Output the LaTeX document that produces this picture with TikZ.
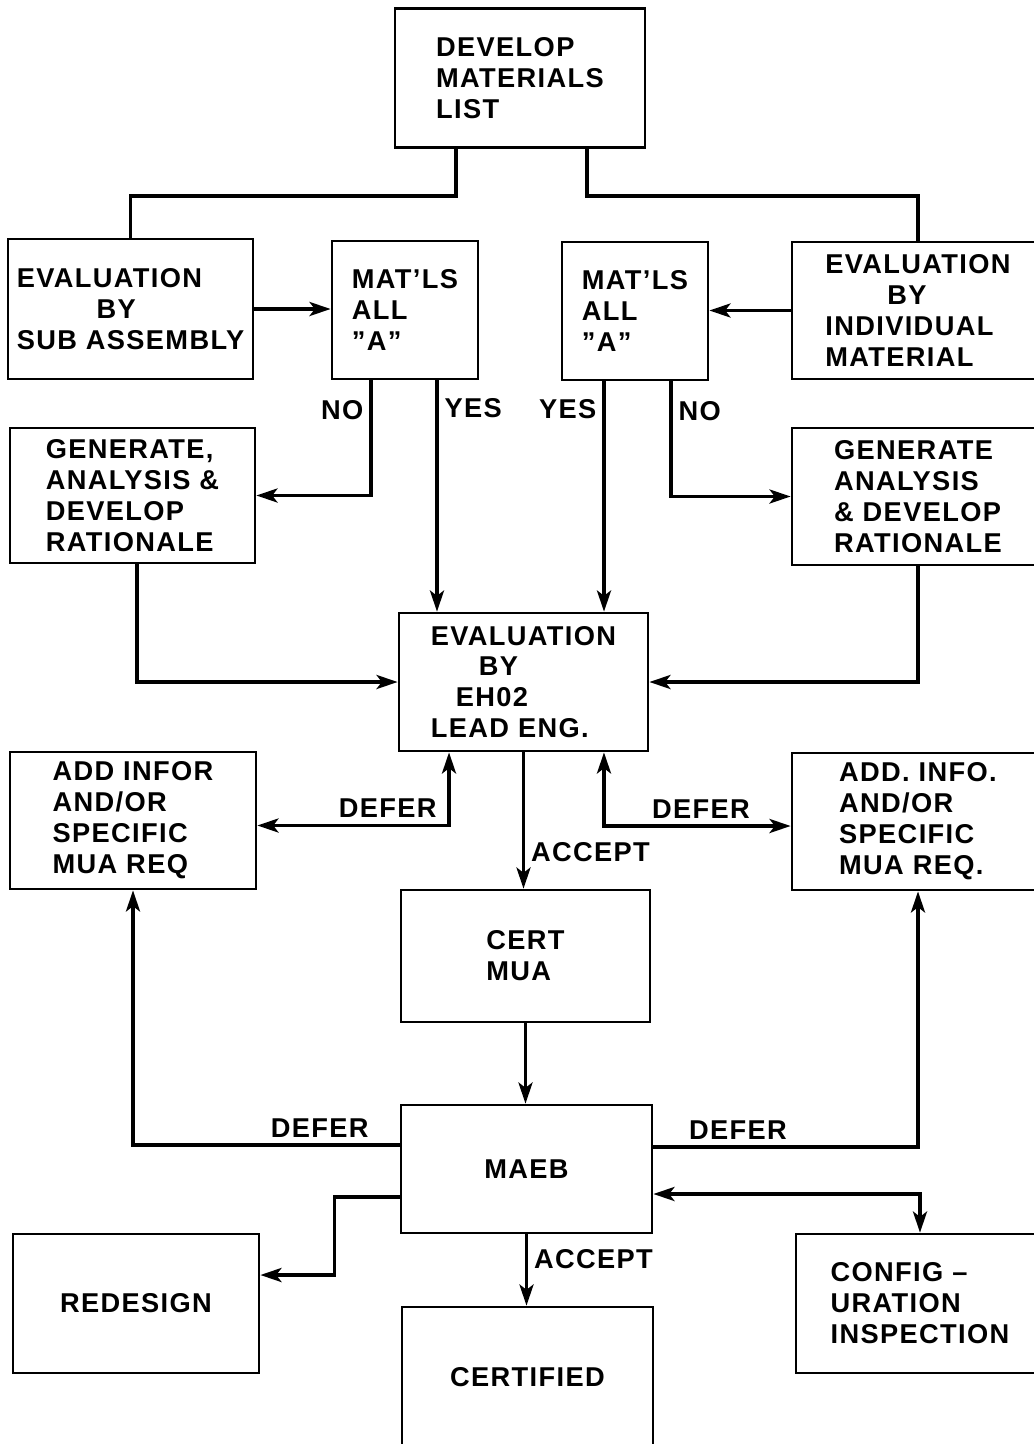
\documentclass[tikz,border=0pt]{standalone}
\usepackage{fontspec}
\setmainfont{Liberation Sans}[LetterSpace=5]
\usepackage{tikz}
\usetikzlibrary{arrows.meta,positioning}

\begin{document}
\begin{tikzpicture}[x=0.02cm, y=-0.02cm]
% STYLES
\tikzset{
    blok/.style={rectangle, draw, line width=1.6pt, align=left, inner sep=0pt,
    font=\fontsize{15.5pt}{17.6pt}\selectfont\bfseries},
    lbl/.style={font=\fontsize{15.5pt}{17.6pt}\selectfont\bfseries},
    link/.style={line width=2pt, >={Stealth[length=12pt,width=8pt,inset=3pt]}}
}
\useasboundingbox (0,0) rectangle (1034,1444);
\clip (0,0) rectangle (1034,1444);

\node [blok, minimum width=5cm, minimum height=2.78cm] (Develop) at (520,78) {DEVELOP\\MATERIALS\\LIST};
\node [blok, minimum width=4.9cm, minimum height=2.8cm] (EvalSub) at (130.5,309) {EVALUATION\\\hspace{1.6cm}BY\\SUB ASSEMBLY};
\node [blok, minimum width=2.92cm, minimum height=2.76cm] (MatsLeft) at (405,310) {MAT'LS\\ALL\\"A"};
\node [blok, minimum width=2.92cm, minimum height=2.76cm] (MatsRight) at (635,311) {MAT'LS\\ALL\\"A"};
\node [blok, minimum width=5.04cm, minimum height=2.74cm] (EvalInd) at (918,310.5) {EVALUATION\\\hspace{1.24cm}BY\\INDIVIDUAL\\MATERIAL};
\node [blok, minimum width=4.9cm, minimum height=2.7cm] (GenLeft) at (132.5,495.5) {GENERATE,\\ANALYSIS \&\\DEVELOP\\RATIONALE};
\node [blok, minimum width=5.04cm, minimum height=2.74cm] (GenRight) at (918,496.5) {GENERATE\\ANALYSIS\\\& DEVELOP\\RATIONALE};
\node [blok, minimum width=4.98cm, minimum height=2.76cm] (EvalLead) at (523.5,682) {EVALUATION\\\hspace{0.96cm}BY\\\hspace{0.5cm}EH02\\LEAD ENG.};
\node [blok, minimum width=4.92cm, minimum height=2.74cm] (AddLeft) at (133,820.5) {ADD INFOR\\AND/OR\\SPECIFIC\\MUA REQ};
\node [blok, minimum width=5.04cm, minimum height=2.74cm] (AddRight) at (918,821.5) {ADD. INFO.\\AND/OR\\SPECIFIC\\MUA REQ.};
\node [blok, minimum width=4.98cm, minimum height=2.64cm] (CertMua) at (525.5,956) {CERT\\MUA};
\node [blok, minimum width=5.02cm, minimum height=2.56cm] (Maeb) at (526.5,1169) {MAEB};
\node [blok, minimum width=4.92cm, minimum height=2.78cm] (Redesign) at (136,1303.5) {REDESIGN};
\node [blok, minimum width=4.96cm, minimum height=2.78cm] (Config) at (920,1303.5) {CONFIG --\\URATION\\INSPECTION};
\node [blok, minimum width=5.02cm, minimum height=2.8cm] (Certified) at (527.5,1377) {CERTIFIED};

% Draw the links between
\draw[link] ([xshift=-1.28cm]Develop.south) -- ++(0,47) -| (EvalSub.north);
\draw[link] ([xshift=1.34cm]Develop.south) -- ++(0,47) -| (EvalInd.north);
\draw[link,->] (EvalSub.east) -- (EvalSub.east -| MatsLeft.west);
\draw[link,->] (EvalInd.west) -- (EvalInd.west -| MatsRight.east);

\draw[link,->] ([xshift=-0.68cm]MatsLeft.south) |- node[lbl, left, pos=0.13] {NO} (GenLeft.east);
\draw[link,->] ([xshift=0.64cm]MatsLeft.south) -- node[lbl, right, pos=0.12] {YES} ([xshift=0.64cm]MatsLeft.south |- EvalLead.north);
\draw[link,->] ([xshift=-0.62cm]MatsRight.south) -- node[lbl, left, pos=0.12] {YES} ([xshift=-0.62cm]MatsRight.south |- EvalLead.north);
\draw[link,->] ([xshift=0.72cm]MatsRight.south) |- node[lbl, right, pos=0.13] {NO} (GenRight.west);

\draw[link,->] ([xshift=0.09cm]GenLeft.south) |- (EvalLead.west);
\draw[link,->] (GenRight.south) |- (EvalLead.east);

\draw[link,<->] ([yshift=-0.1cm]AddLeft.east) -| node[lbl, above, pos=0.34] {DEFER} ([xshift=-1.49cm]EvalLead.south);
\draw[link,<->] ([xshift=1.61cm]EvalLead.south) |- node[lbl, above, pos=0.76] {DEFER} ([yshift=-0.09cm]AddRight.west);
\draw[link,->] (EvalLead.south) -- node[lbl, right, pos=0.73] {ACCEPT} (EvalLead.south |- CertMua.north);
\draw[link,->] (CertMua.south) -- (CertMua.south |- Maeb.north);

\draw[link,->] ([yshift=0.48cm]Maeb.west) -| node[lbl, above, pos=0.15] {DEFER} (AddLeft.south);
\draw[link,->] ([yshift=0.44cm]Maeb.east) -| node[lbl, above, pos=0.16] {DEFER} (AddRight.south);
\draw[link,->] ([yshift=-0.56cm]Maeb.west) -- ++(-65,0) |- ([yshift=0.57cm]Redesign.east);
\draw[link,<->] ([yshift=-0.5cm]Maeb.east) -| (Config.north);
\draw[link,->] (Maeb.south) -- node[lbl, right, pos=0.35] {ACCEPT} (Maeb.south |- Certified.north);
\end{tikzpicture}
\end{document}
